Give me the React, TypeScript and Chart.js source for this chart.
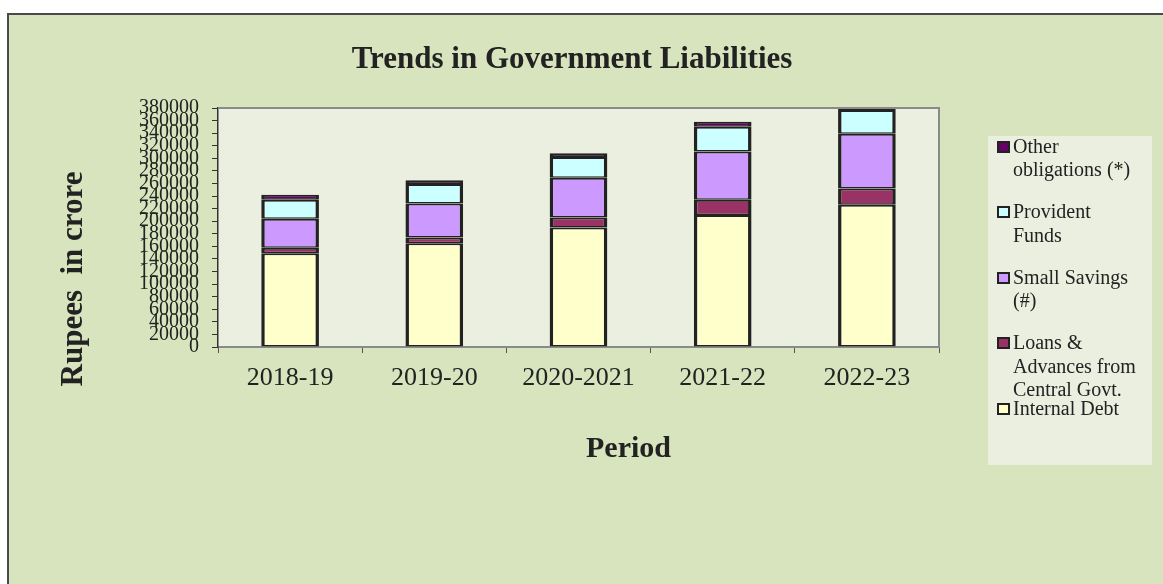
import React, { useEffect, useRef } from "react";
import { Chart, registerables } from "chart.js";

Chart.register(...registerables);

const periods = ["2018-19", "2019-20", "2020-2021", "2021-22", "2022-23"];
const internalDebt = [149000, 165000, 190000, 210000, 226000];
const loansAdvances = [9000, 9000, 16000, 24000, 26000];
const smallSavings = [46000, 54000, 63000, 77000, 87000];
const providentFunds = [30000, 31000, 33000, 39000, 38000];
const otherObligations = [8000, 6000, 6000, 8000, 6000];

const seriesNames = [
  "Internal Debt",
  "Loans & Advances from Central Govt.",
  "Small Savings (#)",
  "Provident Funds",
  "Other obligations (*)",
];
const seriesValues = [internalDebt, loansAdvances, smallSavings, providentFunds, otherObligations];
const seriesColors = ["#FFFFCC", "#993366", "#CC99FF", "#CCFFFF", "#660066"];

const yMin = 0;
const yMax = 380000;
const yStep = 20000;

const chartTitle = "Trends in Government Liabilities";
const yTitle = "Rupees  in crore";
const xTitle = "Period";

const SERIF = "'Liberation Serif', 'Times New Roman', serif";
const TEXT = "#222222";
const PAGE_BG = "#D7E4BD";
const PLOT_BG = "#EBEFE0";

const decorPlugin = {
  id: "decor",
  beforeDraw(chart: any) {
    const { ctx, chartArea: a } = chart;
    ctx.save();
    ctx.fillStyle = PLOT_BG;
    ctx.fillRect(a.left, a.top, a.right - a.left, a.bottom - a.top);
    ctx.restore();
  },
  afterDraw(chart: any) {
    const { ctx, chartArea: a } = chart;
    ctx.save();
    ctx.strokeStyle = "#8a8a8a";
    ctx.lineWidth = 2;
    ctx.beginPath();
    ctx.moveTo(a.left, a.top);
    ctx.lineTo(a.right, a.top);
    ctx.lineTo(a.right, a.bottom);
    ctx.stroke();

    const cx = (a.left + a.right) / 2;
    ctx.fillStyle = TEXT;
    ctx.textAlign = "center";
    ctx.textBaseline = "alphabetic";
    ctx.font = `bold 31px ${SERIF}`;
    ctx.fillText(chartTitle, cx - 6.5, a.top - 40);

    ctx.font = `bold 30px ${SERIF}`;
    ctx.fillText(xTitle, cx + 50, a.bottom + 110);

    ctx.translate(82, a.bottom - 68);
    ctx.rotate(-Math.PI / 2);
    ctx.font = `bold 31px ${SERIF}`;
    ctx.fillText(yTitle, 0, 0);
    ctx.restore();
  },
};

export default function App() {
  const canvasRef = useRef<HTMLCanvasElement | null>(null);

  useEffect(() => {
    const canvas = canvasRef.current;
    if (!canvas) return;
    const datasets = seriesNames.map((name, i) => ({
      label: name,
      data: seriesValues[i],
      backgroundColor: seriesColors[i],
      borderColor: "#222222",
      borderWidth: { left: 3.5, right: 3.5, top: 2, bottom: 1.5 },
      borderSkipped: false,
      barPercentage: 0.4,
      categoryPercentage: 1,
    }));
    const chart = new Chart(canvas, {
      type: "bar",
      data: { labels: periods, datasets },
      plugins: [decorPlugin],
      options: {
        responsive: false,
        animation: false,
        devicePixelRatio: 1,
        layout: { padding: { left: 0, top: 108, right: 224, bottom: 118 } },
        plugins: {
          legend: { display: false },
          tooltip: { enabled: false },
          title: { display: false },
        },
        scales: {
          x: {
            stacked: true,
            afterFit: (s: any) => {
              s.height = 119;
            },
            ticks: {
              font: { family: SERIF, size: 26 },
              color: TEXT,
              padding: 10,
              maxRotation: 0,
              autoSkip: false,
            },
            grid: {
              drawOnChartArea: false,
              drawTicks: true,
              tickLength: 6,
              color: "#555555",
              offset: true,
            },
            border: { color: "#8a8a8a", width: 2 },
          },
          y: {
            stacked: true,
            min: yMin,
            max: yMax,
            afterFit: (s: any) => {
              s.width = 218;
            },
            ticks: {
              stepSize: yStep,
              maxTicksLimit: 100,
              autoSkip: false,
              font: { family: SERIF, size: 20 },
              color: TEXT,
              padding: 13,
              callback: (v: any) => String(v),
            },
            grid: {
              drawOnChartArea: false,
              drawTicks: true,
              tickLength: 6,
              color: "#333333",
            },
            border: { color: "#333333", width: 1.5 },
          },
        },
      },
    });
    return () => chart.destroy();
  }, []);

  const legendOrder = [4, 3, 2, 1, 0];

  return (
    <div style={{ position: "fixed", left: 0, top: 0, width: 1163, height: 584, overflow: "hidden" }}>
      <div
        style={{
          position: "absolute",
          left: 7,
          top: 13,
          width: 1170,
          height: 590,
          background: PAGE_BG,
          borderLeft: "2px solid #4a4a4a",
          borderTop: "2px solid #4a4a4a",
        }}
      />
      <canvas ref={canvasRef} width={1163} height={584} style={{ position: "absolute", left: 0, top: 0 }} />
      <div
        style={{
          position: "absolute",
          left: 988,
          top: 136,
          width: 164,
          height: 329,
          background: PLOT_BG,
        }}
      >
        {legendOrder.map((idx, k) => (
          <div
            key={idx}
            style={{ position: "absolute", left: 0, top: -1.4 + k * 65.5, width: 164 }}
          >
            <div
              style={{
                position: "absolute",
                left: 9,
                top: 6,
                width: 13,
                height: 12,
                boxSizing: "border-box",
                border: "2px solid #222222",
                background: seriesColors[idx],
              }}
            />
            <div
              style={{
                position: "absolute",
                left: 25,
                top: 0,
                width: 126,
                fontFamily: SERIF,
                fontSize: 20,
                lineHeight: "23.5px",
                color: TEXT,
              }}
            >
              {seriesNames[idx]}
            </div>
          </div>
        ))}
      </div>
    </div>
  );
}
